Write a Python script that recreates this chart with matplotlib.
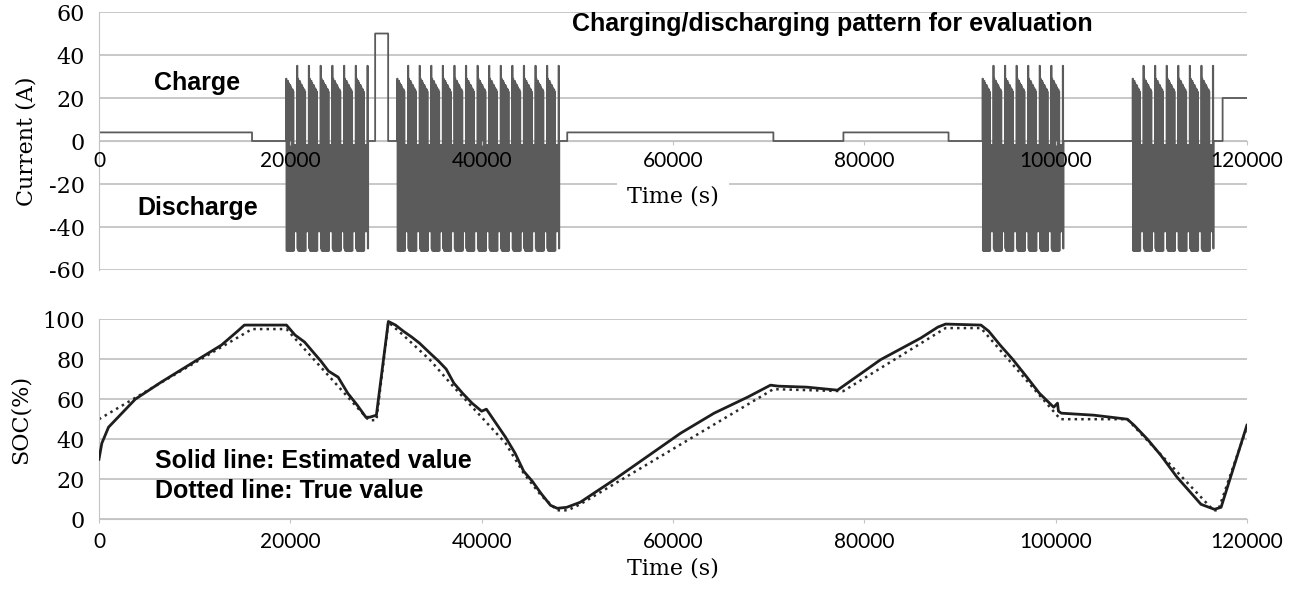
import matplotlib
matplotlib.use('Agg')
import matplotlib.pyplot as plt

plt.rcParams['axes.unicode_minus'] = False
plt.rcParams['path.simplify'] = False

# ---- current pattern (A) ----
level_times = [0, 16000, 28140, 28870, 30230, 48120, 48950, 70500, 77820, 88810, 100830, 116520, 117460]
level_values = [4, 0, 0, 50, 0, 0, 4, 0, 4, 0, 0, 0, 20]
block_starts = [19560, 31170, 92360, 108050]
block_cycles = [7, 14, 7, 7]
# one drive cycle: ramp of charge pulses, rest gap, high spike
cycle_profile = [29, -51, 28, -51, 28, -51, 27, -51, 26, -51,
                 26, -51, 25, -51, 24, -51, 24, -51, 23, -51,
                 -42, -2, -42, -2, -42, -2, -42, -2, 35, -50]

# ---- SOC (%) ----
est_t = [0, 300, 1000, 2000, 3800, 6500, 10000, 12800, 14500, 15200, 19600, 20500, 21500, 22300,
         23200, 24000, 25000, 26000, 27000, 27900, 28300, 29000, 30250, 31000, 31800, 32700, 33500,
         34600, 35500, 36300, 37100, 38000, 39000, 40000, 40500, 41500, 42500, 43500, 44400, 45300,
         46200, 47200, 47900, 48900, 50300, 53800, 57300, 60800, 64300, 67800, 70200, 71000, 74000,
         77200, 81700, 85900, 87700, 88500, 92200, 93000, 94200, 95500, 97000, 98300, 99800, 100200,
         100300, 100600, 104000, 107500, 108200, 109600, 111000, 112700, 114000, 115200, 116600,
         117300, 120000]
est_soc = [30, 38, 46, 51, 60, 68.5, 78.8, 87, 94, 97, 97, 92, 88.5, 84,
           79, 74, 71, 63, 57, 51, 51, 52, 98.8, 97, 94, 91, 88,
           83, 79, 75, 68, 63, 58, 54, 55, 48, 41, 33, 24, 19,
           13, 7, 5.5, 6, 8.5, 19.6, 31.3, 43, 53, 61, 67, 66.5, 66,
           64.5, 79.7, 90.5, 96, 97.5, 97, 94, 87, 80, 71, 63, 56, 58,
           54, 53, 52, 50, 47, 40, 32, 21, 14, 7.5, 5,
           6, 47]
true_t = [0, 16000, 19600, 28200, 29000, 30250, 31800, 34600, 37100, 40000, 42500, 44400, 46200,
          47900, 49000, 50300, 70500, 77800, 88500, 92200, 100500, 107500, 116500, 117000, 120000]
true_soc = [50, 95, 95, 49.5, 49.5, 98.5, 92, 79.6, 66, 51, 38, 23, 12,
            4.5, 4.5, 7.5, 65, 64, 95.5, 95.5, 50, 50, 4.5, 4.5, 46]

x_ticks = [0, 20000, 40000, 60000, 80000, 100000, 120000]

# build stepped current series
t_pts, i_pts = [], []
n_prof = len(cycle_profile)
for k in range(len(level_times)):
    t_pts.append(level_times[k])
    i_pts.append(level_values[k])
    t_next = level_times[k + 1] if k + 1 < len(level_times) else 120000
    for bs, nc in zip(block_starts, block_cycles):
        if level_times[k] < bs < t_next:
            dt = (t_next - bs) / (nc * n_prof)
            for c in range(nc):
                for j, v in enumerate(cycle_profile):
                    t_pts.append(bs + (c * n_prof + j) * dt)
                    i_pts.append(v)
t_pts.append(120000)
i_pts.append(level_values[-1])

grid_c = '#c4c4c4'
serif = 'DejaVu Serif'
sans = 'Lato'
bold = 'Liberation Sans'
bsize = 18

fig = plt.figure(figsize=(12.92, 5.89), dpi=100)
ax1 = fig.add_axes([0.0766, 0.5416, 0.8885, 0.438])
ax2 = fig.add_axes([0.0766, 0.1183, 0.8885, 0.340])

# top panel
ax1.plot(t_pts, i_pts, drawstyle='steps-post', color='#5b5b5b', lw=1.3, zorder=2)
ax1.set_xlim(0, 120000)
ax1.set_ylim(-60, 60)
ax1.set_yticks(range(-60, 61, 20))
ax1.yaxis.grid(True, color=grid_c, lw=1.3)
ax1.set_axisbelow(True)
ax1.xaxis.set_zorder(4)  # tick labels drawn over the pulse blocks
for s in ['top', 'right']:
    ax1.spines[s].set_visible(False)
ax1.spines['left'].set_color(grid_c)
ax1.spines['bottom'].set_position(('data', 0))
ax1.spines['bottom'].set_color(grid_c)
ax1.spines['bottom'].set_zorder(1)
ax1.set_xticks(x_ticks)
ax1.set_xticklabels([str(x) for x in x_ticks], fontfamily=sans, fontsize=15)
ax1.tick_params(axis='x', length=3, color=grid_c, pad=4)
ax1.tick_params(axis='y', length=0, pad=10)
for lab in ax1.get_yticklabels():
    lab.set_fontfamily(serif)
    lab.set_fontsize(16)
ax1.set_ylabel('Current (A)', fontfamily=serif, fontsize=16, labelpad=8)
ax1.text(60000, -26, 'Time (s)', fontfamily=serif, fontsize=16, ha='center', va='center',
         bbox=dict(facecolor='white', edgecolor='none', pad=7), zorder=3)
ax1.text(49430, 54.4, 'Charging/discharging pattern for evaluation', fontfamily=bold,
         fontweight='bold', fontsize=bsize, va='center')
ax1.text(5750, 27, 'Charge', fontfamily=bold, fontweight='bold', fontsize=bsize, va='center')
ax1.text(3970, -31.2, 'Discharge', fontfamily=bold, fontweight='bold', fontsize=bsize, va='center')

# bottom panel
ax2.plot(est_t, est_soc, color='#1e1e1e', lw=2.0, zorder=3)
ax2.plot(true_t, true_soc, color='#2a2a2a', lw=1.8, ls=':', zorder=2)
ax2.set_xlim(0, 120000)
ax2.set_ylim(0, 100)
ax2.set_yticks(range(0, 101, 20))
ax2.yaxis.grid(True, color=grid_c, lw=1.3)
ax2.set_axisbelow(True)
for s in ['top', 'right']:
    ax2.spines[s].set_visible(False)
ax2.spines['left'].set_color(grid_c)
ax2.spines['bottom'].set_color(grid_c)
ax2.set_xticks(x_ticks)
ax2.set_xticklabels([str(x) for x in x_ticks], fontfamily=sans, fontsize=15)
ax2.tick_params(axis='x', length=3, color=grid_c, pad=6)
ax2.tick_params(axis='y', length=0, pad=10)
for lab in ax2.get_yticklabels():
    lab.set_fontfamily(serif)
    lab.set_fontsize(16)
ax2.set_ylabel('SOC(%)', fontfamily=serif, fontsize=16, labelpad=8)
ax2.set_xlabel('Time (s)', fontfamily=serif, fontsize=16, labelpad=4)
ax2.text(5850, 29.2, 'Solid line: Estimated value', fontfamily=bold, fontweight='bold',
         fontsize=bsize, va='center')
ax2.text(5850, 14.2, 'Dotted line: True value', fontfamily=bold, fontweight='bold',
         fontsize=bsize, va='center')

fig.savefig('out.png', dpi=100)
